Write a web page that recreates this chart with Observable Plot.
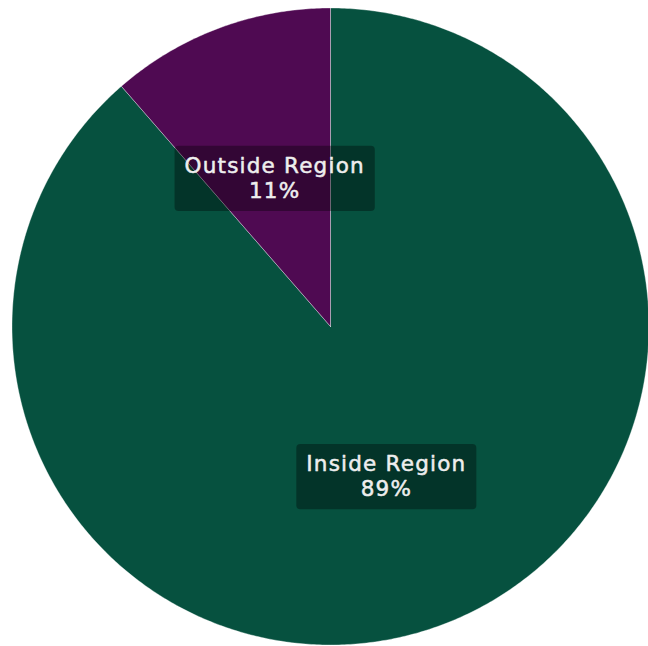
<!DOCTYPE html>
<html>
<head>
<meta charset="utf-8">
<script src="https://cdn.jsdelivr.net/npm/d3@7"></script>
<script src="https://cdn.jsdelivr.net/npm/@observablehq/plot@0.6"></script>
<style>
  html, body { margin: 0; padding: 0; background: #fff; }
  #chart svg { display: block; }
  .pie-label text { letter-spacing: 1.2px; }
</style>
</head>
<body>
<div id="chart"></div>
<script>
const categories = ["Inside Region", "Outside Region"];
const values = [88.6, 11.4];
const colors = ["#06513F", "#4F0A52"];

const total = d3.sum(values);
const arcs = d3.pie().sort(null).value((d) => d.value)(
  categories.map((c, i) => ({ category: c, value: values[i] }))
);

// Polygon outline for each slice (angle measured clockwise from top)
const outline = [];
for (const a of arcs) {
  const c = a.data.category;
  outline.push({ category: c, x: 0, y: 0 });
  const steps = Math.max(2, Math.ceil((a.endAngle - a.startAngle) / (Math.PI / 360)));
  for (let k = 0; k <= steps; ++k) {
    const t = a.startAngle + (a.endAngle - a.startAngle) * (k / steps);
    outline.push({ category: c, x: Math.sin(t), y: Math.cos(t) });
  }
  outline.push({ category: c, x: 0, y: 0 });
}

const labels = arcs.map((a) => {
  const m = (a.startAngle + a.endAngle) / 2;
  return {
    category: a.data.category,
    x: 0.5 * Math.sin(m),
    y: 0.5 * Math.cos(m),
    text: `${a.data.category}\n${Math.round((a.data.value / total) * 100)}%`
  };
});

const chart = Plot.plot({
  width: 648,
  height: 646,
  margin: 0,
  x: { domain: [-1, 1], range: [11.5, 648.5], axis: null },
  y: { domain: [-1, 1], range: [644.5, 7.5], axis: null },
  color: { domain: categories, range: colors },
  style: { background: "transparent" },
  marks: [
    Plot.line(outline, {
      x: "x", y: "y", z: "category", fill: "category",
      stroke: "#ffffff", strokeOpacity: 0.35, strokeWidth: 1, curve: "linear"
    }),
    Plot.text(labels, {
      x: "x", y: "y", text: "text",
      fill: "#eeeeee",
      stroke: "#eeeeee",
      strokeWidth: 0.5,
      fontSize: 21.5,
      fontFamily: "DejaVu Sans, sans-serif",
      lineHeight: 1.17,
      className: "pie-label"
    })
  ]
});

document.getElementById("chart").appendChild(chart);

// Rounded translucent boxes behind the labels
chart.querySelectorAll(".pie-label text").forEach((t) => {
  const b = t.getBBox();
  const padX = 10, padY = 7.5;
  const r = document.createElementNS("http://www.w3.org/2000/svg", "rect");
  r.setAttribute("x", b.x - padX);
  r.setAttribute("y", b.y - padY + 0.5);
  r.setAttribute("width", b.width + 2 * padX);
  r.setAttribute("height", b.height + 2 * padY);
  r.setAttribute("rx", 4);
  r.setAttribute("fill", "#000");
  r.setAttribute("fill-opacity", 0.35);
  r.setAttribute("stroke", "none");
  const tr = t.getAttribute("transform");
  if (tr) r.setAttribute("transform", tr);
  t.parentNode.insertBefore(r, t);
});
</script>
</body>
</html>
